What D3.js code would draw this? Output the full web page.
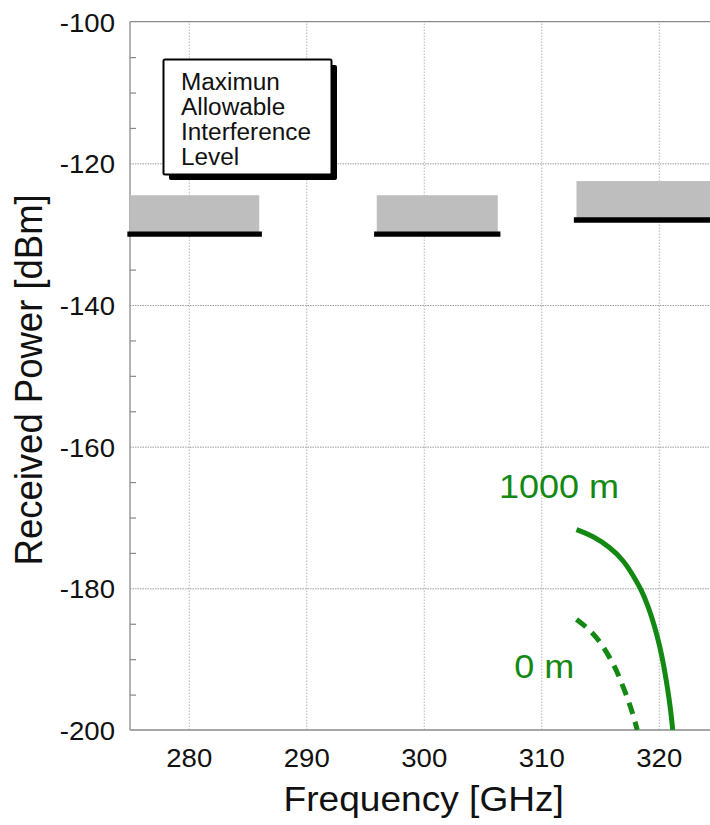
<!DOCTYPE html>
<html>
<head>
<meta charset="utf-8">
<script src="https://cdn.jsdelivr.net/npm/d3@7"></script>
<style>
  html, body { margin: 0; padding: 0; background: #fff; }
  svg { display: block; font-family: "Liberation Sans", Arial, Helvetica, sans-serif; }
</style>
</head>
<body>
<svg id="chart" width="710" height="825"></svg>
<script>
// Axis ticks
const freqTicks = [280, 290, 300, 310, 320];
const powerTicks = [-100, -120, -140, -160, -180, -200];
const powerGrid = [-120, -140, -160, -180];
const powerMinor = [-105, -110, -115, -125, -130, -135, -145, -150, -155,
                    -165, -170, -175, -185, -190, -195];

// Protected bands: start / end frequency [GHz], maximum allowable level [dBm]
const bandStart = [275, 296, 313];
const bandEnd = [286, 306.3, 330];
const maxLevel = [-130, -130, -128];
const shadeTop = [-124.5, -124.5, -122.5];

// Received power at 1000 m altitude (solid)
const freq1000 = [313.0, 314.4, 315.85, 316.98, 317.83, 318.55, 319.11, 319.68, 320.11, 320.45, 320.73, 321.02, 321.19];
const power1000 = [-171.7, -172.6, -174.2, -176.0, -178.2, -180.3, -182.6, -185.5, -188.3, -191.1, -193.9, -197.2, -200.0];

// Received power at 0 m altitude (dashed)
const freq0 = [313.0, 313.87, 314.72, 315.57, 316.28, 316.85, 317.41, 317.83, 318.17];
const power0 = [-184.4, -185.5, -186.9, -189.0, -191.1, -193.4, -195.8, -197.9, -200.0];

// Curve labels: text, frequency, power of the baseline start
const curveLabels = ["1000 m", "0 m"];
const labelFreq = [306.4, 307.7];
const labelPower = [-167.3, -192.6];

const legendLines = ["Maximun", "Allowable", "Interference", "Level"];

const green = "#138913";
const sx = 1.06; // horizontal glyph stretch

const svg = d3.select("#chart");
const mLeft = 130, mTop = 21.7, mRight = 717.5, mBottom = 730;

const x = d3.scaleLinear().domain([275, 325]).range([mLeft, mRight]);
const y = d3.scaleLinear().domain([-200, -100]).range([mBottom, mTop]);

svg.append("defs").append("clipPath").attr("id", "plot")
  .append("rect").attr("x", mLeft).attr("y", mTop)
  .attr("width", mRight - mLeft).attr("height", mBottom - mTop);

// Grid
const gridX = svg.append("g").attr("transform", `translate(0,${mBottom})`)
  .call(d3.axisBottom(x).tickValues(freqTicks).tickSize(-(mBottom - mTop)).tickFormat(""));
gridX.select(".domain").remove();
gridX.selectAll("line").attr("stroke", "#b4b4b4").attr("stroke-dasharray", "1.5,1.5");

const gridY = svg.append("g").attr("transform", `translate(${mLeft},0)`)
  .call(d3.axisLeft(y).tickValues(powerGrid).tickSize(-(mRight - mLeft)).tickFormat(""));
gridY.select(".domain").remove();
gridY.selectAll("line").attr("stroke", "#9a9a9a").attr("stroke-dasharray", "1.5,1");

// Minor ticks on the left axis, pointing inward
const minor = svg.append("g").attr("transform", `translate(${mLeft},0)`)
  .call(d3.axisLeft(y).tickValues(powerMinor).tickSize(-6).tickFormat(""));
minor.select(".domain").remove();
minor.selectAll("line").attr("stroke", "#888").attr("stroke-width", 1.2);

// Frame lines
const frame = svg.append("g").attr("stroke", "#8a8a8a").attr("stroke-width", 1.3).attr("fill", "none");
frame.append("line").attr("x1", mLeft).attr("x2", mLeft).attr("y1", mTop).attr("y2", mBottom);
frame.append("line").attr("x1", mLeft).attr("x2", mRight).attr("y1", mTop).attr("y2", mTop);
frame.append("line").attr("x1", mLeft).attr("x2", mRight).attr("y1", mBottom).attr("y2", mBottom);

// Y tick labels (plain hyphen as minus sign)
const yLab = svg.append("g").attr("transform", `translate(${mLeft},0)`)
  .call(d3.axisLeft(y).tickValues(powerTicks).tickSize(0).tickPadding(15).tickFormat(d => String(d)));
yLab.select(".domain").remove();
yLab.selectAll("text").attr("font-size", 26).attr("fill", "#111")
  .attr("font-family", "'Liberation Sans', Arial, sans-serif")
  .attr("dy", "0.37em").attr("transform", `scale(${sx},1)`).attr("x", -15 / sx);

// X tick labels
const xLab = svg.append("g").attr("transform", `translate(0,${mBottom})`)
  .call(d3.axisBottom(x).tickValues(freqTicks).tickSize(0).tickPadding(0).tickFormat(d => String(d)));
xLab.select(".domain").remove();
xLab.selectAll("text").attr("font-size", 26).attr("fill", "#111")
  .attr("font-family", "'Liberation Sans', Arial, sans-serif")
  .attr("y", 37).attr("dy", 0).attr("transform", `scale(${sx},1)`);

// Axis titles
svg.append("text")
  .attr("transform", `translate(${(mLeft + mRight) / 2},811) scale(${sx},1)`)
  .attr("text-anchor", "middle").attr("font-size", 35).attr("fill", "#111")
  .text("Frequency [GHz]");
svg.append("text")
  .attr("transform", `translate(42,${(mTop + mBottom) / 2 + 4}) scale(${sx},1) rotate(-90)`)
  .attr("text-anchor", "middle").attr("font-size", 36.5).attr("fill", "#111")
  .text("Received Power [dBm]");

// Bands
const bands = d3.range(bandStart.length).map(i => ({
  s: bandStart[i], e: bandEnd[i], lvl: maxLevel[i], topv: shadeTop[i]
}));
const bandG = svg.append("g").attr("clip-path", "url(#plot)");
bandG.selectAll("rect.shade").data(bands).join("rect").attr("class", "shade")
  .attr("x", d => x(d.s)).attr("width", d => x(d.e) - x(d.s))
  .attr("y", d => y(d.topv)).attr("height", d => y(d.lvl) - y(d.topv))
  .attr("fill", "#bebebe");
svg.append("g").selectAll("line").data(bands).join("line")
  .attr("x1", d => x(d.s)).attr("x2", d => x(d.e))
  .attr("y1", d => y(d.lvl)).attr("y2", d => y(d.lvl))
  .attr("stroke", "#000").attr("stroke-width", 5.3).attr("stroke-linecap", "square");

// Curves
const line = d3.line().x(d => x(d[0])).y(d => y(d[1])).curve(d3.curveBasis);
const curveG = svg.append("g").attr("clip-path", "url(#plot)").attr("fill", "none")
  .attr("stroke", green).attr("stroke-width", 5);
curveG.append("path").attr("d", line(d3.zip(freq1000, power1000)));
curveG.append("path").attr("d", line(d3.zip(freq0, power0)))
  .attr("stroke-dasharray", "12,8");

// Curve labels
svg.append("g").selectAll("text").data(curveLabels).join("text")
  .attr("transform", (d, i) => `translate(${x(labelFreq[i])},${y(labelPower[i])}) scale(${sx},1)`)
  .attr("font-size", 34).attr("fill", green).text(d => d);

// Legend box with drop shadow
const lg = svg.append("g");
lg.append("rect").attr("x", 169).attr("y", 65).attr("width", 168).attr("height", 115)
  .attr("rx", 2).attr("fill", "#000");
lg.append("rect").attr("x", 163.5).attr("y", 59.5).attr("width", 168).attr("height", 115)
  .attr("rx", 1.5).attr("fill", "#fff").attr("stroke", "#000").attr("stroke-width", 2);
lg.selectAll("text").data(legendLines).join("text")
  .attr("transform", (d, i) => `translate(181,${90 + i * 25}) scale(${sx},1)`)
  .attr("font-size", 23).attr("fill", "#111").text(d => d);
</script>
</body>
</html>
